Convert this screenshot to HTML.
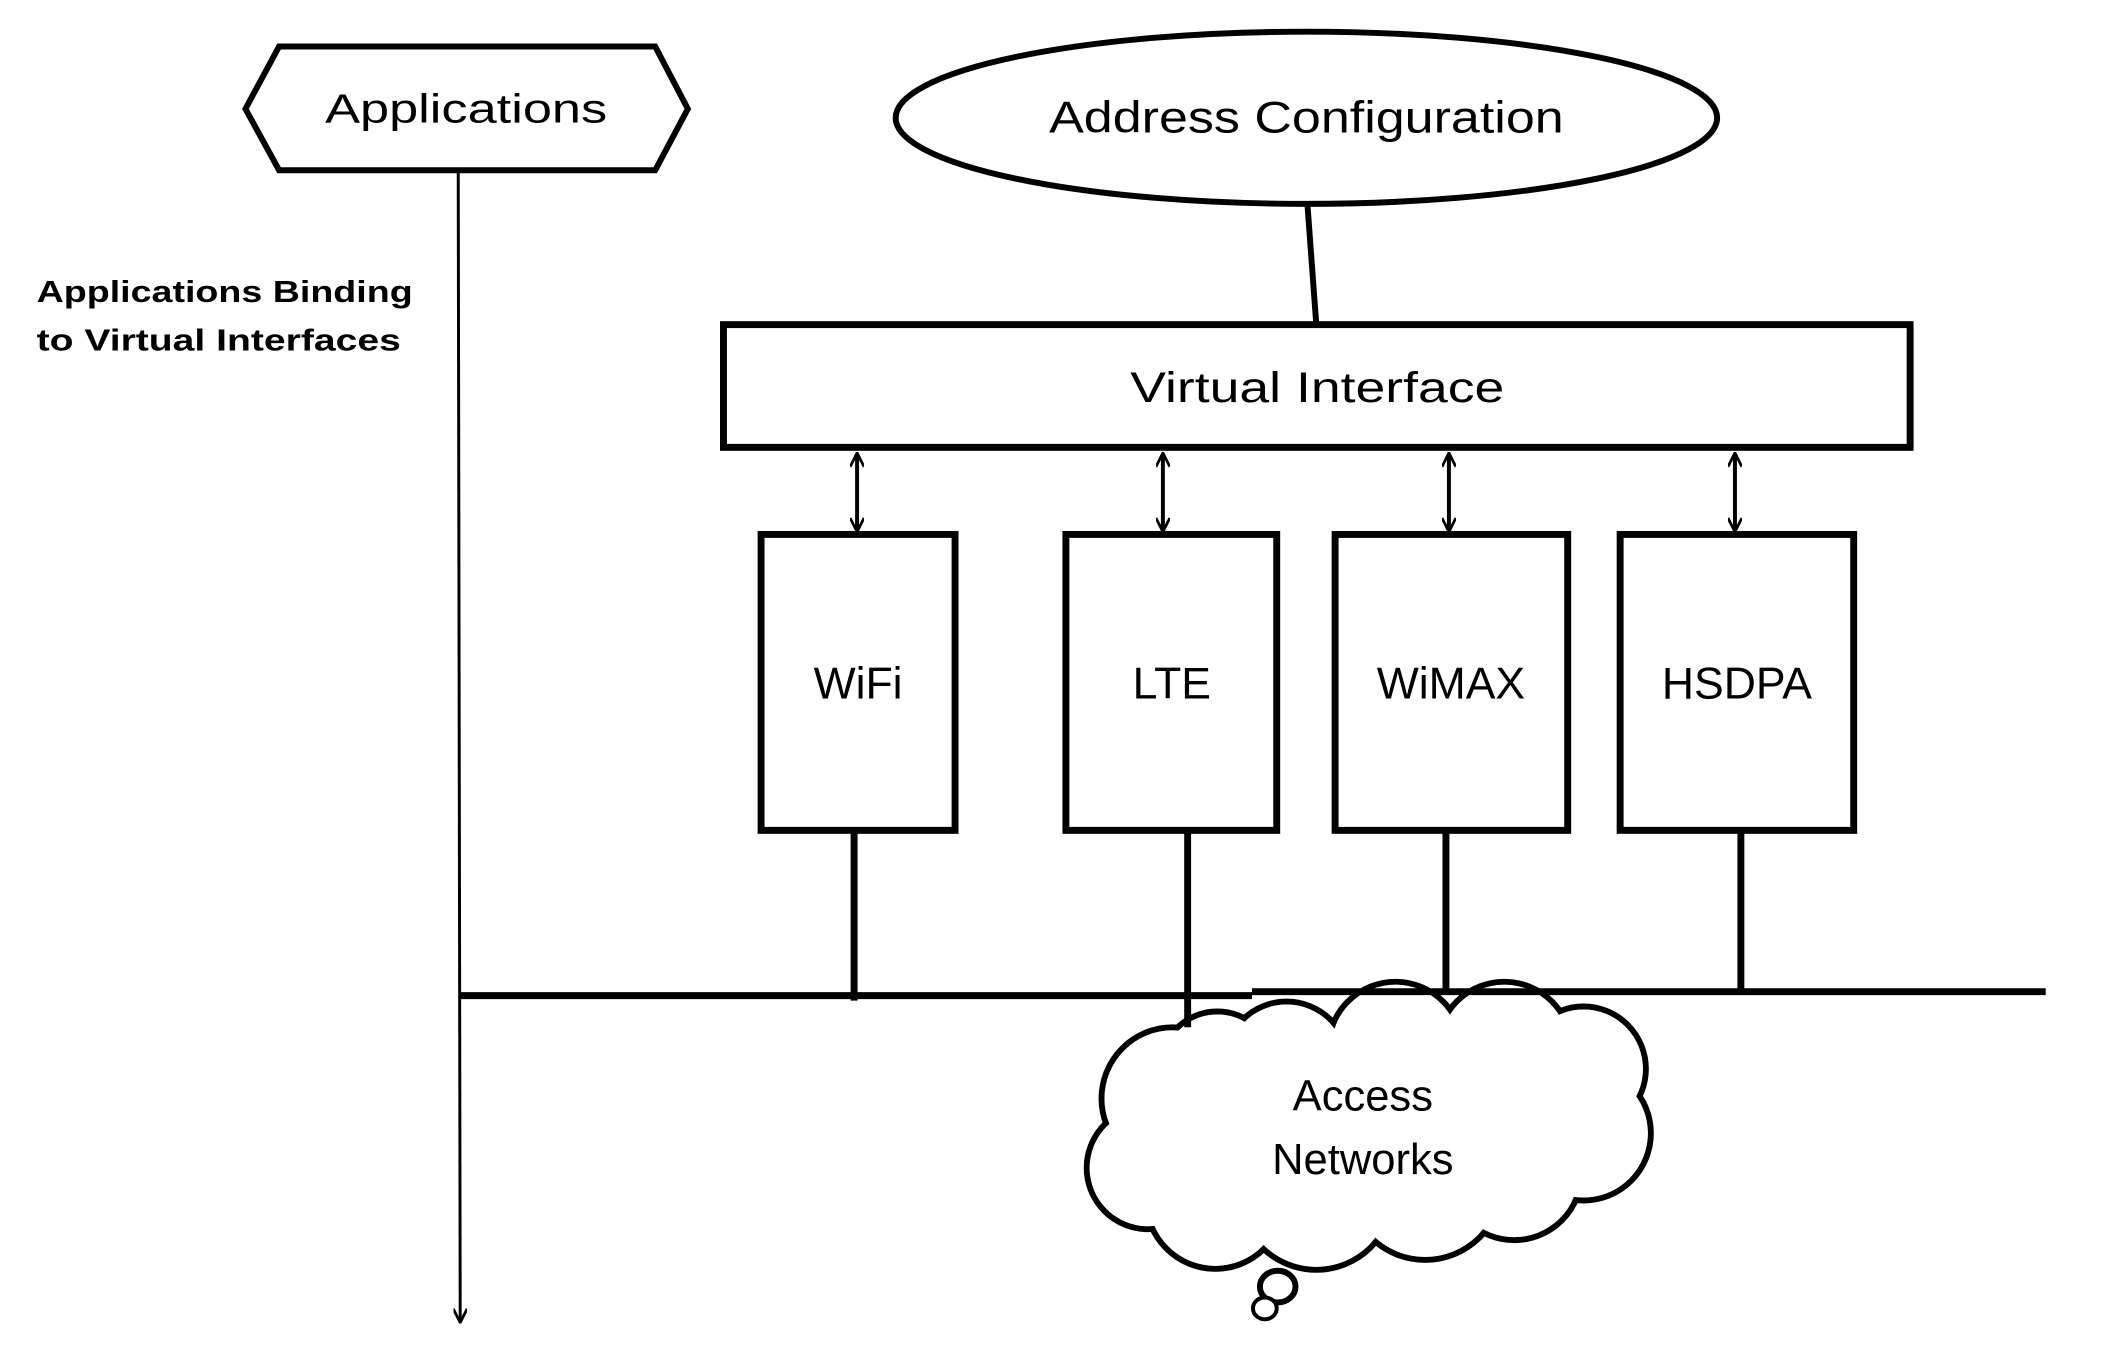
<!DOCTYPE html>
<html><head><meta charset="utf-8"><style>
html,body{margin:0;padding:0;background:#fff;}
svg{display:block;}
text{font-family:"Liberation Sans",sans-serif;fill:#000;}
</style></head><body>
<svg width="2103" height="1370" viewBox="0 0 2103 1370" xmlns="http://www.w3.org/2000/svg">
<defs>
<marker id="ah" viewBox="0 0 10 10" refX="9" refY="5" markerWidth="16" markerHeight="14" orient="auto-start-reverse" markerUnits="userSpaceOnUse">
<path d="M0,0 L10,5 L0,10" fill="none" stroke="#000" stroke-width="2"/>
</marker>
</defs>
<g transform="scale(0.9897)">
<!-- cloud -->
<g stroke="#000" stroke-width="6" fill="#fff">
<circle cx="1185" cy="1110" r="72"/><circle cx="1160" cy="1180" r="62"/>
<circle cx="1228" cy="1212" r="70"/><circle cx="1330" cy="1205" r="78"/>
<circle cx="1440" cy="1195" r="78"/><circle cx="1530" cy="1185" r="68"/>
<circle cx="1600" cy="1145" r="68"/><circle cx="1600" cy="1080" r="63"/>
<circle cx="1520" cy="1060" r="68"/><circle cx="1410" cy="1060" r="68"/>
<circle cx="1300" cy="1075" r="63"/><circle cx="1230" cy="1080" r="58"/>
<ellipse cx="1291" cy="1300" rx="18" ry="16"/><ellipse cx="1278" cy="1322" rx="12" ry="11" stroke-width="4"/>
</g>
<g fill="#fff">
<circle cx="1185" cy="1110" r="69"/><circle cx="1160" cy="1180" r="59"/>
<circle cx="1228" cy="1212" r="67"/><circle cx="1330" cy="1205" r="75"/>
<circle cx="1440" cy="1195" r="75"/><circle cx="1530" cy="1185" r="65"/>
<circle cx="1600" cy="1145" r="65"/><circle cx="1600" cy="1080" r="60"/>
<circle cx="1520" cy="1060" r="65"/><circle cx="1410" cy="1060" r="65"/>
<circle cx="1300" cy="1075" r="60"/><circle cx="1230" cy="1080" r="55"/>
<rect x="1220" y="1060" width="320" height="150"/>
</g>
<text x="1377" y="1122" font-size="44" text-anchor="middle">Access</text>
<text x="1377" y="1186" font-size="44" text-anchor="middle">Networks</text>

<!-- applications hexagon -->
<polygon points="248,110 282,47 662,47 695,110 662,172 282,172" fill="#fff" stroke="#000" stroke-width="6"/>
<text x="471" y="124" font-size="41" text-anchor="middle" textLength="285" lengthAdjust="spacingAndGlyphs">Applications</text>
<line x1="463" y1="172" x2="465" y2="1335" stroke="#000" stroke-width="3" marker-end="url(#ah)"/>
<text x="37" y="305" font-size="31" font-weight="bold" textLength="380" lengthAdjust="spacingAndGlyphs">Applications Binding</text>
<text x="37" y="354" font-size="31" font-weight="bold" textLength="368" lengthAdjust="spacingAndGlyphs">to Virtual Interfaces</text>

<!-- address config -->
<ellipse cx="1320" cy="119" rx="415" ry="87" fill="#fff" stroke="#000" stroke-width="6"/>
<text x="1320" y="134" font-size="45" text-anchor="middle" textLength="520" lengthAdjust="spacingAndGlyphs">Address Configuration</text>
<line x1="1321" y1="206" x2="1330" y2="328" stroke="#000" stroke-width="6"/>

<!-- virtual interface -->
<rect x="731" y="328" width="1199" height="124" fill="#fff" stroke="#000" stroke-width="7"/>
<text x="1331" y="406" font-size="43" text-anchor="middle" textLength="378" lengthAdjust="spacingAndGlyphs">Virtual Interface</text>

<g stroke="#000" stroke-width="4" marker-start="url(#ah)" marker-end="url(#ah)">
<line x1="866" y1="459" x2="866" y2="536"/>
<line x1="1175" y1="459" x2="1175" y2="536"/>
<line x1="1464" y1="459" x2="1464" y2="536"/>
<line x1="1753" y1="459" x2="1753" y2="536"/>
</g>

<g fill="#fff" stroke="#000" stroke-width="7">
<rect x="769" y="540" width="196" height="299"/>
<rect x="1077" y="540" width="213" height="299"/>
<rect x="1349" y="540" width="235" height="299"/>
<rect x="1637" y="540" width="236" height="299"/>
</g>
<g font-size="45" text-anchor="middle">
<text x="867" y="706">WiFi</text>
<text x="1184" y="706">LTE</text>
<text x="1466" y="706">WiMAX</text>
<text x="1755" y="706">HSDPA</text>
</g>

<g stroke="#000" stroke-width="7">
<line x1="863" y1="839" x2="863" y2="1011"/>
<line x1="1200" y1="839" x2="1200" y2="1038"/>
<line x1="1461" y1="839" x2="1461" y2="1002"/>
<line x1="1759" y1="839" x2="1759" y2="1002"/>
<line x1="465" y1="1006" x2="1265" y2="1006"/>
<line x1="1265" y1="1002" x2="2067" y2="1002"/>
</g>
</g>
</svg>
</body></html>
